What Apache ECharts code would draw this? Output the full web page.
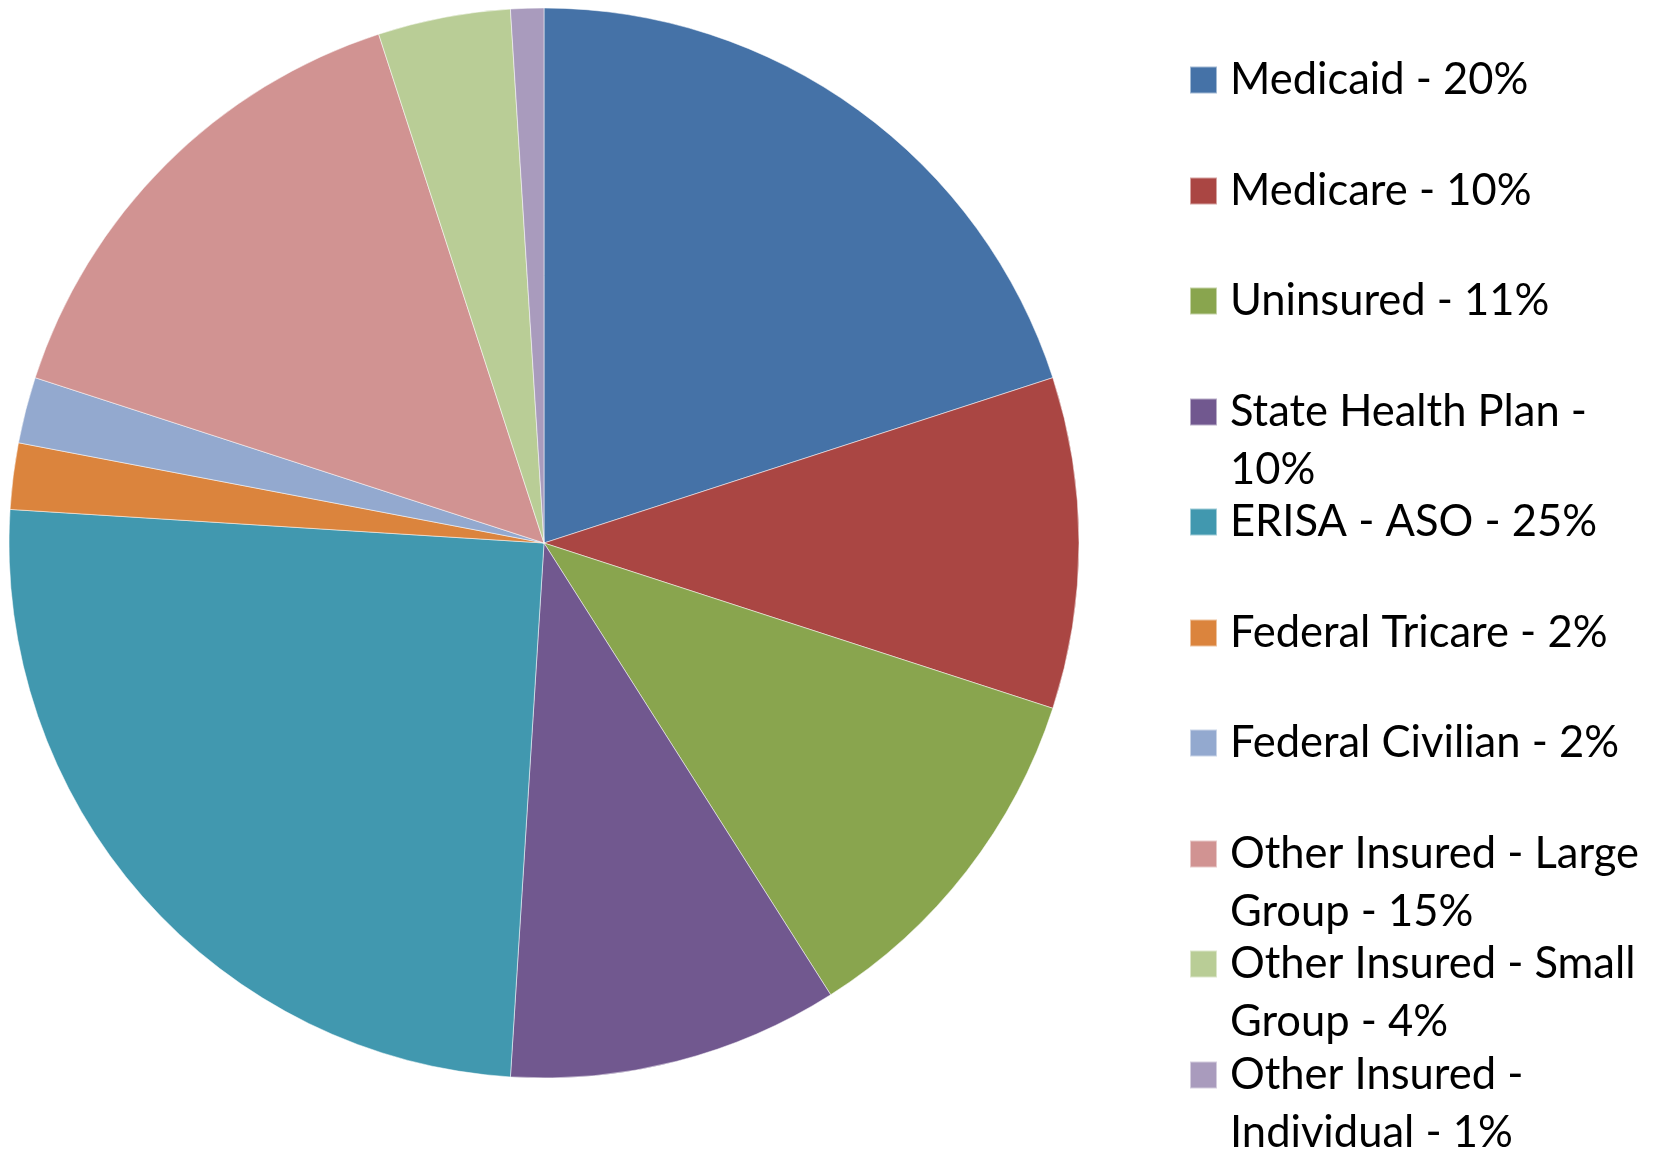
<!DOCTYPE html>
<html>
<head>
<meta charset="utf-8">
<script src="https://cdn.jsdelivr.net/npm/echarts@6/dist/echarts.min.js"></script>
<style>
  html, body { margin: 0; padding: 0; background: #fff; }
  #chart { width: 1659px; height: 1152px; }
</style>
</head>
<body>
<div id="chart"></div>
<script>
// Payer mix, percent of total
const names = [
  'Medicaid', 'Medicare', 'Uninsured', 'State Health Plan', 'ERISA - ASO',
  'Federal Tricare', 'Federal Civilian', 'Other Insured - Large Group',
  'Other Insured - Small Group', 'Other Insured - Individual'
];
const values = [20, 10, 11, 10, 25, 2, 2, 15, 4, 1];
// legend text as it wraps in the original
const legendLabels = [
  'Medicaid - 20%', 'Medicare - 10%', 'Uninsured - 11%', 'State Health Plan -\n10%',
  'ERISA - ASO - 25%', 'Federal Tricare - 2%', 'Federal Civilian - 2%',
  'Other Insured - Large\nGroup - 15%', 'Other Insured - Small\nGroup - 4%',
  'Other Insured -\nIndividual - 1%'
];
const colors = ['#4572A7', '#AA4643', '#89A54E', '#71588F', '#4198AF',
  '#DB843D', '#93A9CF', '#D19392', '#B9CD96', '#A99BBD'];

const chart = echarts.init(document.getElementById('chart'));

const LINE_H = 58;
const ICON = 27;
const firstCenter = 80;
const step = 110.5;

// one legend per entry so every entry gets the same slot, wrapped or not
const legends = names.map((name, i) => {
  const twoLines = legendLabels[i].includes('\n');
  // blank first line keeps the first real line level with the square
  const text = twoLines ? '\n' + legendLabels[i] : legendLabels[i];
  const boxH = twoLines ? LINE_H * 3 : LINE_H;
  const c = firstCenter + step * i;
  return {
    data: [name],
    left: 1189,
    top: Math.round(c - boxH / 2),
    orient: 'vertical',
    padding: 0,
    itemWidth: ICON,
    itemHeight: ICON,
    icon: 'rect',
    selectedMode: false,
    formatter: () => text,
    textStyle: {
      fontFamily: 'Lato',
      fontSize: 43.5,
      color: '#000',
      lineHeight: LINE_H,
      padding: [0, 0, 0, 8]
    }
  };
});

chart.setOption({
  animation: false,
  color: colors,
  legend: legends,
  series: [{
    type: 'pie',
    center: [544, 543],
    radius: 535,
    startAngle: 90,
    clockwise: true,
    label: { show: false },
    labelLine: { show: false },
    itemStyle: { borderColor: 'rgba(255,255,255,0.5)', borderWidth: 1 },
    data: names.map((n, i) => ({ name: n, value: values[i] }))
  }]
});
</script>
</body>
</html>
